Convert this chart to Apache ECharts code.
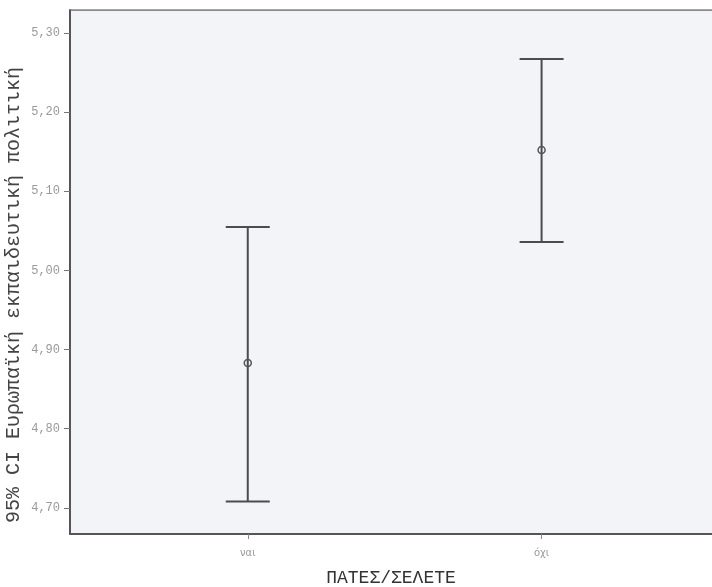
<!DOCTYPE html>
<html>
<head>
<meta charset="utf-8">
<script src="https://cdn.jsdelivr.net/npm/echarts@6/dist/echarts.min.js"></script>
<style>html,body{margin:0;padding:0;background:#fff}#c{width:712px;height:587px}</style>
</head>
<body>
<div id="c"></div>
<script>
const categories = ['ναι', 'όχι'];
const lowerCI = [4.708, 5.036];
const meanVals = [4.883, 5.152];
const upperCI = [5.055, 5.267];
const yTicks = [4.70, 4.80, 4.90, 5.00, 5.10, 5.20, 5.30];
const xTitle = 'ΠΑΤΕΣ/ΣΕΛΕΤΕ';
const yTitle = '95% CI Ευρωπαϊκή εκπαιδευτική πολιτική';

const chart = echarts.init(document.getElementById('c'));
const data = categories.map((c, i) => [i + 1, lowerCI[i], meanVals[i], upperCI[i]]);
const ink = '#4a4c52';

chart.setOption({
  animation: false,
  backgroundColor: '#ffffff',
  grid: { left: 70, top: 10, right: 0, bottom: 53, show: true, backgroundColor: '#f2f4f8', borderWidth: 0, outerBoundsMode: 'none', containLabel: false },
  graphic: [
    {
      type: 'text', x: 14, y: 295, rotation: Math.PI / 2,
      style: { text: yTitle, fontFamily: 'Liberation Mono', fontSize: 20, fill: '#444', align: 'center', verticalAlign: 'middle' }
    }
  ],
  xAxis: {
    type: 'value', min: 0.395, max: 2.58,
    axisLine: { show: true, lineStyle: { color: '#555', width: 2 } },
    axisTick: { show: true, customValues: [1, 2], length: 5, lineStyle: { color: '#888' } },
    axisLabel: { customValues: [1, 2], formatter: v => categories[Math.round(v) - 1] || '', color: '#999', fontSize: 10, fontFamily: 'DejaVu Sans', margin: 14 },
    splitLine: { show: false },
    name: xTitle, nameLocation: 'middle', nameGap: 35,
    nameTextStyle: { fontFamily: 'Liberation Mono', fontSize: 18, color: '#333' }
  },
  yAxis: {
    type: 'value', min: 4.667, max: 5.329,
    axisLine: { show: true, lineStyle: { color: '#555', width: 2 } },
    axisTick: { show: true, customValues: yTicks, length: 6, lineStyle: { color: '#777' } },
    axisLabel: { customValues: yTicks, formatter: v => v.toFixed(2).replace('.', ','), color: '#999', fontSize: 12, fontFamily: 'Liberation Mono', margin: 10 },
    splitLine: { show: false }
  },
  series: [
    {
      type: 'custom',
      data: data,
      renderItem: function (params, api) {
        const x = api.value(0);
        const lo = api.coord([x, api.value(1)]);
        const hi = api.coord([x, api.value(3)]);
        const mid = api.coord([x, api.value(2)]);
        const hw = 22;
        const st = { stroke: ink, lineWidth: 2 };
        return {
          type: 'group',
          children: [
            { type: 'line', shape: { x1: lo[0], y1: lo[1], x2: hi[0], y2: hi[1] }, style: st },
            { type: 'line', shape: { x1: lo[0] - hw, y1: lo[1], x2: lo[0] + hw, y2: lo[1] }, style: st },
            { type: 'line', shape: { x1: hi[0] - hw, y1: hi[1], x2: hi[0] + hw, y2: hi[1] }, style: st },
            { type: 'circle', shape: { cx: mid[0], cy: mid[1], r: 3.5 }, style: { fill: 'none', stroke: '#555', lineWidth: 1.5 } }
          ]
        };
      }
    },
    {
      type: 'line', data: [[0.395, 5.329], [2.58, 5.329]], symbol: 'none',
      lineStyle: { color: '#666', width: 1.5 }, silent: true
    }
  ]
});
</script>
</body>
</html>
